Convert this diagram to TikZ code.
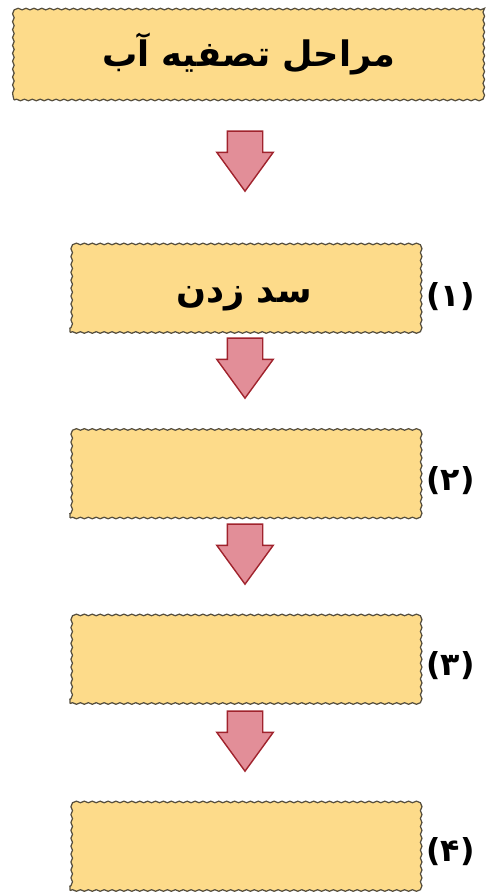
\documentclass[tikz,border=0pt]{standalone}
\usepackage{fontspec}
\usepackage{xcolor}
\usetikzlibrary{shapes.arrows,decorations.pathmorphing}
\newfontfamily\arabicfont[Script=Arabic]{DejaVu Sans}
\TeXXeTstate=1
\definecolor{boxfill}{RGB}{253,219,138}
\definecolor{boxedge}{RGB}{85,78,62}
\definecolor{arrowfill}{RGB}{226,142,152}
\definecolor{arrowedge}{RGB}{160,35,45}
\tikzset{
  stagebox/.style={rectangle, draw=boxedge, line width=0.7pt, fill=boxfill, inner sep=0pt,
    decorate, decoration={snake, amplitude=0.45pt, segment length=4.5pt},
    minimum width=6.96cm, minimum height=1.78cm, text height=20pt, text depth=3pt,
    font=\arabicfont\bfseries\fontsize{20}{24}\selectfont},
  downarrow/.style={single arrow, shape border rotate=270, draw=arrowedge, line width=0.8pt,
    fill=arrowfill, inner xsep=0.34cm, inner ysep=0pt, minimum height=1.2cm,
    single arrow head extend=0.21cm, single arrow tip angle=72},
  stagenum/.style={anchor=west, inner sep=0pt, font=\arabicfont\bfseries\fontsize{18}{20}\selectfont}
}
\begin{document}
\begin{tikzpicture}[x=0.02cm, y=-0.02cm]
  \useasboundingbox (0,0) rectangle (485,892);
  \node[stagebox, minimum width=9.38cm, text height=16pt] (title) at (248.5,55.5) {\beginR مراحل تصفیه آب\endR};
  \node[stagebox] (s1) at (244,288) {\beginR سد زدن\endR};
  \node[stagebox] (s2) at (244,473.5) {};
  \node[stagebox] (s3) at (244,659) {};
  \node[stagebox] (s4) at (244,846) {};
  \node[downarrow] (a1) at (245,149) {};
  \node[downarrow] (a2) at (245,356) {};
  \node[downarrow] (a3) at (245,542) {};
  \node[downarrow] (a4) at (245,729) {};
  \node[stagenum] (n1) at (426,297) {\beginR(۱)\endR};
  \node[stagenum] (n2) at (426,481) {\beginR(۲)\endR};
  \node[stagenum] (n3) at (426,666) {\beginR(۳)\endR};
  \node[stagenum] (n4) at (426,852) {\beginR(۴)\endR};
\end{tikzpicture}
\end{document}
